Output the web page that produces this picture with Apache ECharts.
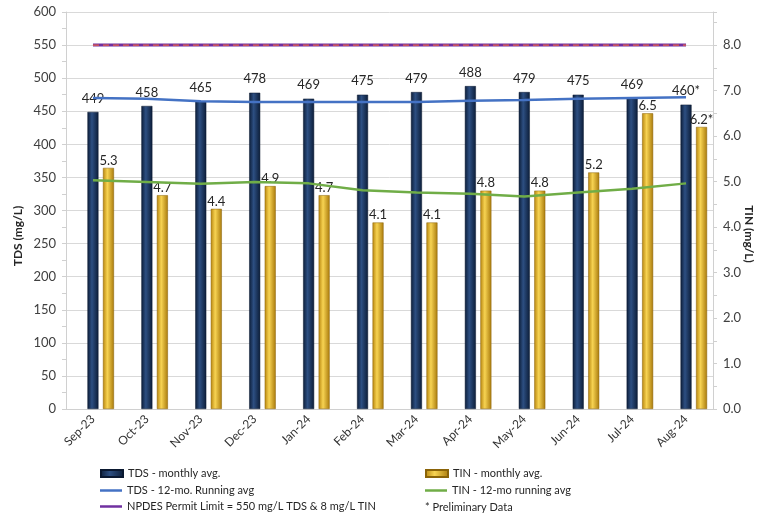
<!DOCTYPE html>
<html>
<head>
<meta charset="utf-8">
<script src="https://cdn.jsdelivr.net/npm/echarts@6/dist/echarts.min.js"></script>
<style>
  html, body { margin: 0; padding: 0; background: #ffffff; }
  #chart { width: 772px; height: 519px; }
</style>
</head>
<body>
<div id="chart"></div>
<script>
// Monthly plant effluent data, Sep 2023 - Aug 2024
const months = ['Sep-23', 'Oct-23', 'Nov-23', 'Dec-23', 'Jan-24', 'Feb-24',
                'Mar-24', 'Apr-24', 'May-24', 'Jun-24', 'Jul-24', 'Aug-24'];
const tdsMonthly = [449, 458, 465, 478, 469, 475, 479, 488, 479, 475, 469, 460];
const tinMonthly = [5.3, 4.7, 4.4, 4.9, 4.7, 4.1, 4.1, 4.8, 4.8, 5.2, 6.5, 6.2];
const tdsRunning = [470, 469, 465, 464, 464, 464, 464, 466, 467, 469, 470, 471];
const tinRunning = [5.03, 4.99, 4.95, 4.99, 4.96, 4.81, 4.76, 4.73, 4.67, 4.76, 4.84, 4.96];
const preliminary = [false, false, false, false, false, false, false, false, false, false, false, true];
const tdsLimit = 550;
const tinLimit = 8;
const tdsTicks = { min: 0, max: 600, step: 50 };
const tinTicks = { min: 0, step: 1 };

const NAME_TDS = 'TDS - monthly avg.';
const NAME_TIN = 'TIN - monthly avg.';
const NAME_TDS_RUN = 'TDS - 12-mo. Running avg';
const NAME_TIN_RUN = 'TIN - 12-mo running avg';
const NAME_LIMIT = 'NPDES Permit Limit = 550 mg/L TDS & 8 mg/L TIN';

const FONT = 'Lato, "Liberation Sans", sans-serif';
const TEXT = '#404040';

const navyFill = new echarts.graphic.LinearGradient(0, 0, 1, 0, [
  { offset: 0, color: '#0c1d38' },
  { offset: 0.4, color: '#2d4f82' },
  { offset: 1, color: '#0c1d38' }
]);
const goldFill = new echarts.graphic.LinearGradient(0, 0, 1, 0, [
  { offset: 0, color: '#b8860f' },
  { offset: 0.4, color: '#f7d352' },
  { offset: 1, color: '#a97a0c' }
]);

const star = i => (preliminary[i] ? '*' : '');

// one legend entry per row, laid out in two columns
function legendRow(name, left, top, iconHeight) {
  return {
    left: left, top: top, orient: 'horizontal', padding: 0,
    itemWidth: 22, itemHeight: iconHeight, icon: 'rect',
    textStyle: { fontFamily: FONT, fontSize: 11, color: '#262626' },
    data: [name]
  };
}

const chart = echarts.init(document.getElementById('chart'), null, { renderer: 'canvas' });

chart.setOption({
  animation: false,
  backgroundColor: '#ffffff',
  textStyle: { fontFamily: FONT },
  grid: { left: 66, right: 59, top: 12, bottom: 110, containLabel: false },
  legend: [
    legendRow(NAME_TDS, 100, 468, 7),
    legendRow(NAME_TDS_RUN, 100, 485, 2.5),
    legendRow(NAME_LIMIT, 100, 501, 2.5),
    legendRow(NAME_TIN, 425, 468, 7),
    legendRow(NAME_TIN_RUN, 425, 485, 2.5)
  ],
  graphic: [
    {
      type: 'text', left: 425, top: 502,
      style: { text: '* Preliminary Data', font: '11px ' + FONT, fill: '#262626' }
    },
    {
      type: 'text', x: 18, y: 236, rotation: Math.PI / 2,
      style: { text: 'TDS (mg/L)', font: 'bold 12px ' + FONT, fill: '#262626',
               align: 'center', verticalAlign: 'middle' }
    },
    {
      type: 'text', x: 749, y: 234, rotation: -Math.PI / 2,
      style: { text: 'TIN (mg/L)', font: 'bold 12px ' + FONT, fill: '#262626',
               align: 'center', verticalAlign: 'middle' }
    }
  ],
  xAxis: {
    type: 'category',
    data: months,
    boundaryGap: true,
    axisLine: { lineStyle: { color: '#d0d0d0' } },
    axisTick: { show: false },
    axisLabel: { rotate: 45, margin: 8, fontSize: 12, color: '#333333', fontFamily: FONT }
  },
  yAxis: [
    {
      type: 'value',
      min: tdsTicks.min, max: tdsTicks.max, interval: tdsTicks.step,
      axisLine: { show: true, lineStyle: { color: '#d0d0d0' } },
      axisTick: { show: true, length: 4, lineStyle: { color: '#d0d0d0' } },
      minorTick: { show: true, splitNumber: 2, length: 4, lineStyle: { color: '#d0d0d0' } },
      splitLine: { lineStyle: { color: '#d9d9d9' } },
      axisLabel: { fontSize: 13, color: TEXT, margin: 10, fontFamily: FONT }
    },
    {
      type: 'value',
      min: tinTicks.min, max: tinLimit * tdsTicks.max / tdsLimit, interval: tinTicks.step,
      axisLine: { show: true, lineStyle: { color: '#d0d0d0' } },
      axisTick: { show: true, length: 4, lineStyle: { color: '#d0d0d0' } },
      minorTick: { show: true, splitNumber: 2, length: 4, lineStyle: { color: '#d0d0d0' } },
      splitLine: { show: false },
      axisLabel: { fontSize: 13, color: TEXT, margin: 10, fontFamily: FONT, showMaxLabel: false,
                   formatter: v => v.toFixed(1) }
    }
  ],
  series: [
    {
      // empty slot so the TDS column sits on the category centre
      name: 'spacer', type: 'bar', yAxisIndex: 0, barWidth: 11,
      data: months.map(() => null), silent: true
    },
    {
      name: NAME_TDS, type: 'bar', yAxisIndex: 0, barWidth: 11,
      data: tdsMonthly,
      itemStyle: { color: navyFill, borderColor: '#0a1830', borderWidth: 0.5 },
      label: {
        show: true, position: 'top', distance: 7, fontSize: 13, color: '#262626',
        fontFamily: FONT, formatter: p => p.value + star(p.dataIndex)
      },
      z: 2
    },
    {
      name: NAME_TIN, type: 'bar', yAxisIndex: 1, barWidth: 11, barGap: '41%',
      data: tinMonthly,
      itemStyle: { color: goldFill, borderColor: '#8a6308', borderWidth: 0.5 },
      label: {
        show: true, position: 'top', distance: 1, fontSize: 13, color: '#262626',
        fontFamily: FONT, formatter: p => p.value.toFixed(1) + star(p.dataIndex)
      },
      z: 2
    },
    {
      name: NAME_TDS_RUN, type: 'line', yAxisIndex: 0,
      data: tdsRunning, symbol: 'none',
      lineStyle: { color: '#4472c4', width: 2.5 },
      itemStyle: { color: '#4472c4' },
      z: 4
    },
    {
      name: NAME_TIN_RUN, type: 'line', yAxisIndex: 1,
      data: tinRunning, symbol: 'none',
      lineStyle: { color: '#70ad47', width: 2.5 },
      itemStyle: { color: '#70ad47' },
      z: 4
    },
    {
      name: NAME_LIMIT, type: 'line', yAxisIndex: 0,
      data: months.map(() => tdsLimit), symbol: 'none',
      lineStyle: { color: '#7030a0', width: 3 },
      itemStyle: { color: '#7030a0' },
      z: 5
    },
    {
      name: 'TIN limit', type: 'line', yAxisIndex: 1,
      data: months.map(() => tinLimit), symbol: 'none',
      lineStyle: { color: '#e8604a', width: 1.2, type: [6, 4] },
      itemStyle: { color: '#e8604a' },
      z: 6
    }
  ]
});
</script>
</body>
</html>
